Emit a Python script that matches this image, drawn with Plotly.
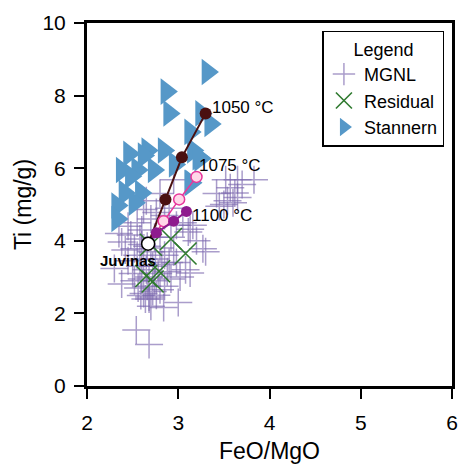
import plotly.graph_objects as go

FONT = "Liberation Sans, Arial, sans-serif"

# MGNL data (FeO/MgO, Ti mg/g)
mgnl_x = [3.52, 3.65, 3.83, 3.57, 3.62, 3.65, 3.50, 3.54, 3.42, 3.70, 3.60, 3.45,
          3.16, 3.11, 3.30, 3.08, 3.27, 3.13, 3.20, 3.05,
          2.95, 2.62, 2.76, 2.98, 3.13, 2.48, 2.38, 2.52, 2.55, 2.70, 2.85, 2.45,
          2.60, 2.90, 2.80, 2.35, 2.65,
          2.60, 2.55, 2.62, 2.70, 2.75, 2.80, 2.85, 2.90, 2.95, 2.58, 2.65, 2.72,
          2.78, 2.82, 2.68, 2.74, 2.60, 2.66, 2.72, 2.62, 2.68, 2.56, 2.50, 2.45,
          2.88, 2.92, 2.98, 3.02, 2.85, 2.70, 2.64, 2.76, 2.80, 2.52, 2.58, 2.92,
          2.38, 3.00, 2.84, 2.54, 2.68, 2.30, 2.68, 2.59, 2.42, 2.66, 2.74]
mgnl_y = [5.68, 5.68, 5.68, 5.46, 5.32, 5.19, 5.00, 5.10, 5.30, 5.55, 5.05, 4.95,
          4.43, 4.24, 3.70, 3.20, 3.78, 3.11, 4.00, 4.50,
          5.68, 4.86, 4.78, 4.43, 4.32, 4.16, 3.97, 3.78, 4.50, 4.60, 4.70, 4.40,
          4.30, 4.90, 5.30, 4.20, 5.10,
          3.90, 3.60, 3.50, 3.70, 3.50, 3.80, 3.60, 3.40, 3.70, 3.30, 3.20, 3.30,
          3.10, 3.35, 3.00, 2.90, 2.95, 2.75, 2.60, 2.55, 2.45, 2.70, 3.10, 3.45,
          3.15, 2.95, 3.40, 3.00, 2.75, 2.20, 2.40, 2.50, 2.65, 2.90, 4.05, 4.10,
          2.81, 2.30, 2.16, 1.54, 1.14, 3.24, 2.40, 2.49, 3.75, 3.85, 4.10]

# Residual
res_x = [2.70, 2.92, 3.08, 2.65, 2.79, 2.72]
res_y = [3.89, 4.05, 3.65, 3.03, 3.16, 2.88]

# Stannern
stan_x = [3.32, 2.87, 2.90, 3.25, 3.35, 3.13, 3.16, 2.66, 2.84, 2.46, 3.24,
          2.38, 2.55, 2.73, 2.48, 3.13, 2.41, 2.59, 2.33, 2.52, 2.33, 2.62,
          3.22, 3.14, 2.96]
stan_y = [8.65, 8.11, 7.51, 7.51, 7.22, 7.00, 6.49, 6.49, 6.49, 6.40, 6.27,
          5.95, 5.95, 5.95, 5.78, 5.60, 5.32, 5.32, 4.97, 5.05, 4.60, 6.35,
          6.30, 5.60, 6.10]

# Juvinas starting composition
juv_x, juv_y = 2.67, 3.92

# Crystallization paths
p1050_x = [2.67, 2.86, 3.04, 3.30]
p1050_y = [3.92, 5.14, 6.30, 7.51]
p1075_x = [2.67, 2.84, 3.01, 3.20]
p1075_y = [3.92, 4.54, 5.14, 5.76]
p1100_x = [2.67, 2.76, 2.95, 3.09]
p1100_y = [3.92, 4.22, 4.54, 4.81]

x_ticks = [2, 3, 4, 5, 6]
y_ticks = [0, 2, 4, 6, 8, 10]

fig = go.Figure()

fig.add_trace(go.Scatter(
    x=mgnl_x, y=mgnl_y, mode="markers", name="MGNL",
    marker=dict(symbol="cross-thin", size=20,
                line=dict(width=1.5, color="rgba(125,105,175,0.65)")),
))
fig.add_trace(go.Scatter(
    x=res_x, y=res_y, mode="markers", name="Residual",
    marker=dict(symbol="x-thin", size=22,
                line=dict(width=1.6, color="#2f7a2f")),
))
fig.add_trace(go.Scatter(
    x=stan_x, y=stan_y, mode="markers", name="Stannern",
    marker=dict(symbol="triangle-right", size=23, color="#5698c8",
                line=dict(width=0)),
))
fig.add_trace(go.Scatter(
    x=p1050_x, y=p1050_y, mode="lines+markers", showlegend=False,
    line=dict(color="#4a1010", width=2),
    marker=dict(size=12, color="#4a1010"),
))
fig.add_trace(go.Scatter(
    x=p1075_x, y=p1075_y, mode="lines+markers", showlegend=False,
    line=dict(color="#e8369b", width=1.5),
    marker=dict(size=11, color="#ffd6e8", line=dict(color="#e8369b", width=1.5)),
))
fig.add_trace(go.Scatter(
    x=p1100_x, y=p1100_y, mode="lines+markers", showlegend=False,
    line=dict(color="#8e1b8e", width=2),
    marker=dict(size=11, color="#8e1b8e"),
))
fig.add_trace(go.Scatter(
    x=[juv_x], y=[juv_y], mode="markers", showlegend=False,
    marker=dict(size=13, color="white", line=dict(color="black", width=1.5)),
))

ann_font = dict(family=FONT, size=17, color="black")
fig.add_annotation(x=p1050_x[-1], y=p1050_y[-1], text="1050 °C", showarrow=False,
                   xanchor="left", yanchor="middle", xshift=4, yshift=6, font=ann_font)
fig.add_annotation(x=p1075_x[-1], y=p1075_y[-1], text="1075 °C", showarrow=False,
                   xanchor="left", yanchor="middle", xshift=0, yshift=11, font=ann_font)
fig.add_annotation(x=p1100_x[-1], y=p1100_y[-1], text="1100 °C", showarrow=False,
                   xanchor="left", yanchor="middle", xshift=4, yshift=-4, font=ann_font)
fig.add_annotation(x=juv_x, y=juv_y, text="<b>Juvinas</b>", showarrow=False,
                   xanchor="right", yanchor="top", xshift=10, yshift=-6,
                   font=dict(family=FONT, size=15, color="black"))

axis_common = dict(
    showline=True, linewidth=3, linecolor="black", mirror=True,
    ticks="outside", ticklen=10, tickwidth=2, tickcolor="black",
    showgrid=False, zeroline=False,
    tickfont=dict(family=FONT, size=21, color="black"),
)
fig.update_xaxes(range=[2, 6], tickvals=x_ticks, ticklabelstandoff=6,
                 title=dict(text="FeO/MgO", font=dict(family=FONT, size=23, color="black"),
                            standoff=10),
                 **axis_common)
fig.update_yaxes(range=[0, 10], tickvals=y_ticks, ticklabelstandoff=4,
                 title=dict(text="Ti (mg/g)", font=dict(family=FONT, size=23, color="black"),
                            standoff=5),
                 **axis_common)

fig.update_layout(
    width=469, height=471,
    margin=dict(l=87, r=11, t=17, b=84),
    plot_bgcolor="white", paper_bgcolor="white",
    font=dict(family=FONT, color="black"),
    legend=dict(
        x=0.645, y=0.978, xanchor="left", yanchor="top",
        bgcolor="white", bordercolor="black", borderwidth=1.5,
        font=dict(family=FONT, size=18, color="black"),
        title=dict(text="Legend", side="top center",
                   font=dict(family=FONT, size=18, color="black")),
        itemwidth=30, tracegroupgap=0,
    ),
)

fig.write_html("out.html")
